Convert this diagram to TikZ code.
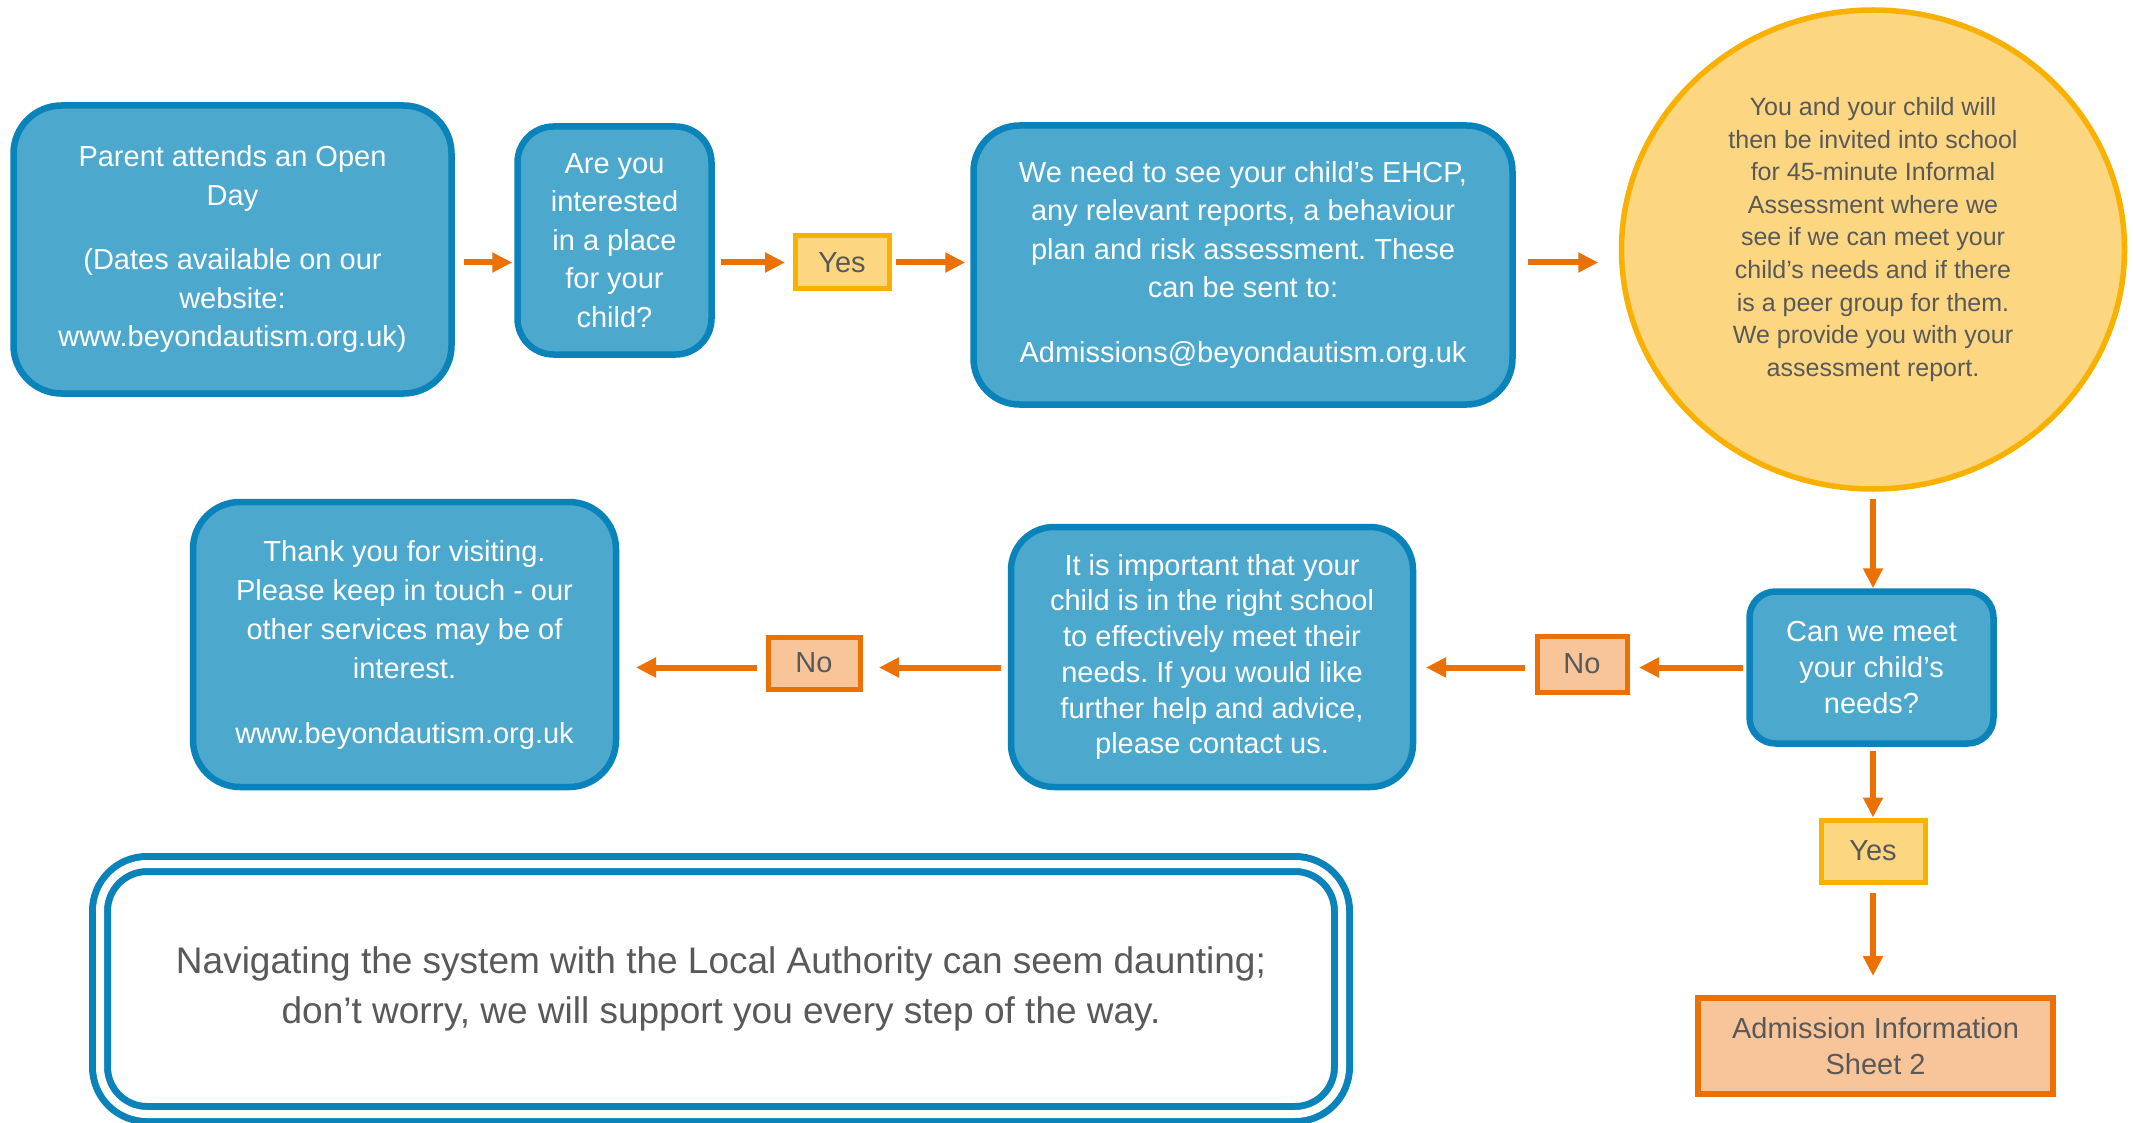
\documentclass[tikz,border=0pt]{standalone}
\usepackage{fontspec}
\setmainfont{Liberation Sans}
\usetikzlibrary{arrows.meta,shapes.geometric}
\definecolor{bablue}{HTML}{0A82BA}
\definecolor{bafill}{HTML}{4DA8CD}
\definecolor{baamber}{HTML}{F8B100}
\definecolor{bayellow}{HTML}{FCD681}
\definecolor{baorange}{HTML}{EC7105}
\definecolor{bapeach}{HTML}{F8C59B}
\definecolor{bagrey}{HTML}{595959}
\frenchspacing
\tikzset{
	stage/.style={draw=bablue,fill=bafill,line width=6.5pt,text=white,align=center,inner sep=0pt,font=\fontsize{29}{38.5}\selectfont},
	answer/.style={line width=5pt,text=bagrey,align=center,inner sep=0pt,font=\fontsize{29}{35.4}\selectfont},
	yesbox/.style={answer,draw=baamber,fill=bayellow},
	nobox/.style={answer,draw=baorange,fill=bapeach},
	flow/.style={-{Triangle[length=20pt,width=19pt]},draw=baorange,fill=baorange,line width=6pt},
}
\begin{document}
\begin{tikzpicture}[x=1pt,y=-1pt]
	\path[fill=white,use as bounding box] (0,0) rectangle (2133,1123);
	\node[stage,rounded corners=48pt,minimum width=438pt,minimum height=288pt] (openday) at(232.5,249.5) {Parent attends an Open\\Day\\[26pt](Dates available on our\\website:\\www.beyondautism.org.uk)};
	\node[stage,rounded corners=36pt,minimum width=194pt,minimum height=228pt] (interest) at(614.5,240.5) {Are you\\interested\\in a place\\for your\\child?};
	\node[yesbox,minimum width=94pt,minimum height=53pt] (yes1) at(842,262.5) {Yes};
	\node[stage,rounded corners=46pt,minimum width=539pt,minimum height=279pt] (ehcp) at(1243,265) {We need to see your child’s EHCP,\\any relevant reports, a behaviour\\plan and risk assessment. These\\can be sent to:\\[26pt]Admissions@beyondautism.org.uk};
	\node[ellipse,draw=baamber,fill=bayellow,line width=5.5pt,minimum width=503pt,minimum height=479pt,inner sep=0pt] (assess) at(1873,249.5) {};
	\node[text=bagrey,align=center,font=\fontsize{25}{32.6}\selectfont] (assesstext) at([yshift=10pt]assess.center) {You and your child will\\then be invited into school\\for 45-minute Informal\\Assessment where we\\see if we can meet your\\child’s needs and if there\\is a peer group for them.\\We provide you with your\\assessment report.};
	\node[stage,rounded corners=26pt,minimum width=244pt,minimum height=152pt,font=\fontsize{29}{36}\selectfont] (canmeet) at(1871.5,667.5) {Can we meet\\your child’s\\needs?};
	\node[yesbox,minimum width=104pt,minimum height=62pt] (yes2) at(1873,851) {Yes};
	\node[nobox,line width=6pt,minimum width=355pt,minimum height=96pt] (admit) at(1875.5,1046) {Admission Information\\Sheet 2};
	\node[nobox,minimum width=90pt,minimum height=56pt] (no2) at(1582,664) {No};
	\node[stage,rounded corners=43pt,minimum width=402pt,minimum height=260pt,font=\fontsize{29}{35.7}\selectfont] (important) at(1212,657) {It is important that your\\child is in the right school\\to effectively meet their\\needs. If you would like\\further help and advice,\\please contact us.};
	\node[nobox,minimum width=92pt,minimum height=52pt] (no1) at(814,663) {No};
	\node[stage,rounded corners=47pt,minimum width=423pt,minimum height=285pt,font=\fontsize{29}{39}\selectfont] (thank) at(404.5,644.5) {Thank you for visiting.\\Please keep in touch - our\\other services may be of\\interest.\\[26pt]www.beyondautism.org.uk};
	\node[draw=bablue,double=white,double distance=8pt,line width=7pt,fill=white,rounded corners=47pt,minimum width=1242pt,minimum height=250pt,text=bagrey,align=center,font=\fontsize{37}{50}\selectfont] (note) at(721,989) {Navigating the system with the Local Authority can seem daunting;\\don’t worry, we will support you every step of the way.};
	
	\draw[flow,shorten <=9pt,shorten >=2pt] (openday.east |- yes1) -- (interest.west |- yes1);
	\draw[flow,shorten <=6pt,shorten >=7.5pt] (interest.east |- yes1) -- (yes1.west);
	\draw[flow,shorten <=4.5pt,shorten >=5pt] (yes1.east) -- (ehcp.west |- yes1);
	\draw[flow,shorten <=12pt,shorten >=20.5pt] (ehcp.east |- yes1) -- (assess.west |- yes1);
	\draw[flow,shorten <=7pt] (assess.south) -- (assess.south |- canmeet.north);
	\draw[flow,shorten <=4pt] (yes2.north |- canmeet.south) -- (yes2.north);
	\draw[flow,shorten <=8.5pt,shorten >=19pt] (yes2.south) -- (yes2.south |- admit.north);
	\draw[flow,shorten <=3pt,shorten >=9.5pt] (canmeet.west) -- (no2.east |- canmeet.west);
	\draw[flow,shorten <=9.5pt,shorten >=9.75pt] (no2.west |- canmeet) -- (important.east |- canmeet);
	\draw[flow,shorten <=6.75pt,shorten >=16.5pt] (important.west |- canmeet) -- (no1.east |- canmeet);
	\draw[flow,shorten <=8.5pt,shorten >=16.75pt] (no1.west |- canmeet) -- (thank.east |- canmeet);
\end{tikzpicture}
\end{document}
